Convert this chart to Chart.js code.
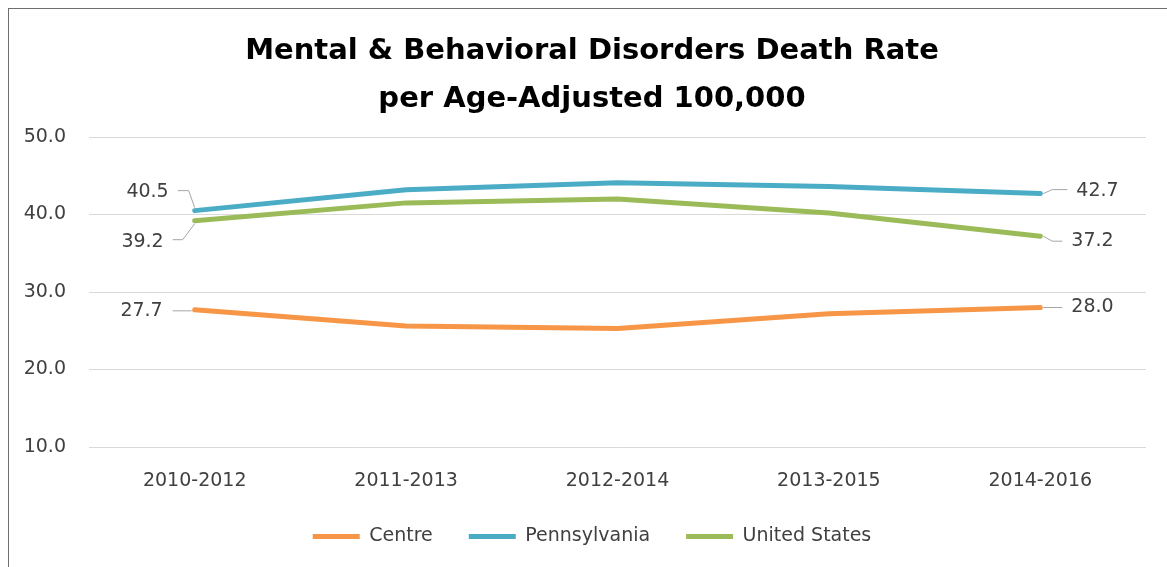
<!DOCTYPE html>
<html>
<head>
<meta charset="utf-8">
<script src="https://cdn.jsdelivr.net/npm/chart.js@4/dist/chart.umd.min.js"></script>
<style>
    html, body { margin: 0; padding: 0; background: #fff; overflow: hidden; }
    #wrap { position: relative; width: 1167px; height: 567px; }
    #frame {
        position: absolute; left: 8px; top: 8px;
        width: 1200px; height: 600px;
        border: 1px solid #6E6E6E; box-sizing: border-box;
    }
    #chart { position: absolute; left: 0; top: 0; }
</style>
</head>
<body>
<div id="wrap">
    <div id="frame"></div>
    <canvas id="chart" width="1167" height="567"></canvas>
</div>
<script>
// 三年滚动周期
const CATEGORIES = ['2010-2012', '2011-2013', '2012-2014', '2013-2015', '2014-2016'];

const CENTRE = [27.7, 25.6, 25.3, 27.2, 28.0];
const PENNSYLVANIA = [40.5, 43.2, 44.1, 43.6, 42.7];
const UNITED_STATES = [39.2, 41.5, 42.0, 40.2, 37.2];

const Y_MIN = 10;
const Y_MAX = 50;
const Y_STEP = 10;

const COLORS = {
    centre: '#F79646',
    pennsylvania: '#4BACC6',
    us: '#9BBB59'
};

const FONT = 'DejaVu Sans';
const TEXT_COLOR = '#404040';

// 首尾数据标签的位置（相对数据点的偏移）和引导线
const LABEL_LAYOUT = {
    0: { // Centre
        first: { dx: -32, dy: 1.5, align: 'right', leader: [[-22, 1], [-3, 1]] },
        last:  { dx: 31, dy: 0, align: 'left', leader: [[3, 0], [22, 0]] }
    },
    1: { // Pennsylvania
        first: { dx: -26, dy: -19, align: 'right', leader: [[-17, -20], [-6, -20], [0, -3]] },
        last:  { dx: 36, dy: -3, align: 'left', leader: [[3, 0], [12, -4], [27, -4]] }
    },
    2: { // United States
        first: { dx: -31, dy: 21, align: 'right', leader: [[-22, 19], [-12, 19], [0, 3]] },
        last:  { dx: 31, dy: 5, align: 'left', leader: [[3, 0], [12, 5], [22, 5]] }
    }
};

const endLabels = {
    id: 'endLabels',
    afterDatasetsDraw(chart) {
        const ctx = chart.ctx;
        ctx.save();
        ctx.font = '19px "' + FONT + '"';
        ctx.fillStyle = TEXT_COLOR;
        ctx.textBaseline = 'middle';
        chart.data.datasets.forEach((ds, i) => {
            const meta = chart.getDatasetMeta(i);
            const layout = LABEL_LAYOUT[i];
            if (!layout) return;
            [['first', 0], ['last', ds.data.length - 1]].forEach(([key, idx]) => {
                const pt = meta.data[idx];
                const cfg = layout[key];
                // 引导线
                ctx.beginPath();
                ctx.strokeStyle = '#A6A6A6';
                ctx.lineWidth = 1;
                cfg.leader.forEach(([lx, ly], j) => {
                    if (j === 0) ctx.moveTo(pt.x + lx, pt.y + ly);
                    else ctx.lineTo(pt.x + lx, pt.y + ly);
                });
                ctx.stroke();
                ctx.textAlign = cfg.align;
                ctx.fillText(ds.data[idx].toFixed(1), pt.x + cfg.dx, pt.y + cfg.dy);
            });
        });
        ctx.restore();
    }
};

function makeDataset(label, data, color) {
    return {
        label: label,
        data: data,
        borderColor: color,
        backgroundColor: color,
        borderWidth: 5,
        borderCapStyle: 'round',
        borderJoinStyle: 'round',
        pointRadius: 0,
        tension: 0,
        fill: false
    };
}

const ctx = document.getElementById('chart');

new Chart(ctx, {
    type: 'line',
    data: {
        labels: CATEGORIES,
        datasets: [
            makeDataset('Centre', CENTRE, COLORS.centre),
            makeDataset('Pennsylvania', PENNSYLVANIA, COLORS.pennsylvania),
            makeDataset('United States', UNITED_STATES, COLORS.us)
        ]
    },
    options: {
        responsive: false,
        animation: false,
        layout: {
            padding: { left: 17, right: 0, top: 8, bottom: 11 }
        },
        scales: {
            x: {
                offset: true,
                grid: { display: false },
                border: { display: false },
                ticks: {
                    color: TEXT_COLOR,
                    font: { family: FONT, size: 19 },
                    padding: 14.5,
                    maxRotation: 0
                },
                afterFit(scale) { scale.height = 44; }
            },
            y: {
                min: Y_MIN,
                max: Y_MAX,
                border: { display: false },
                grid: { color: '#D9D9D9', lineWidth: 1, drawTicks: false },
                ticks: {
                    stepSize: Y_STEP,
                    color: TEXT_COLOR,
                    font: { family: FONT, size: 19 },
                    padding: 23,
                    callback: (v) => Number(v).toFixed(1)
                },
                afterFit(scale) { scale.width = 72; }
            },
            // 右侧留白
            yRight: {
                position: 'right',
                display: true,
                grid: { display: false },
                border: { display: false },
                ticks: { display: false },
                afterFit(scale) { scale.width = 21; }
            }
        },
        plugins: {
            title: {
                display: true,
                text: ['Mental & Behavioral Disorders Death Rate', 'per Age-Adjusted 100,000'],
                color: '#000',
                font: { family: FONT, size: 29, weight: 'bold', lineHeight: 1.638 },
                padding: { top: 20, bottom: 14 }
            },
            legend: {
                position: 'bottom',
                labels: {
                    usePointStyle: true,
                    pointStyle: 'line',
                    pointStyleWidth: 47,
                    color: TEXT_COLOR,
                    font: { family: FONT, size: 19 },
                    padding: 36
                }
            },
            tooltip: { enabled: false }
        }
    },
    plugins: [endLabels]
});
</script>
</body>
</html>
